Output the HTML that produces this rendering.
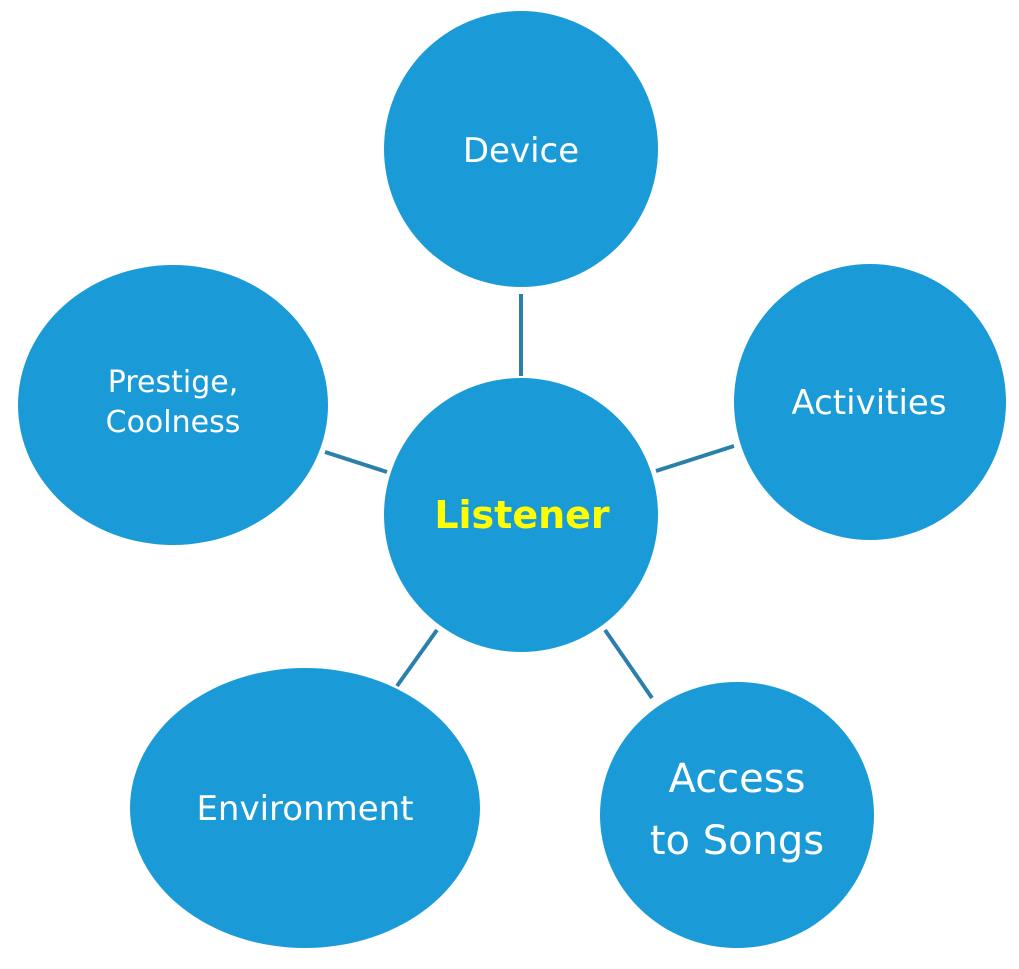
<!DOCTYPE html>
<html><head><style>
html,body{margin:0;padding:0;background:#fff;width:1019px;height:969px;overflow:hidden}
text{font-family:"DejaVu Sans","Liberation Sans",sans-serif;fill:#fff;text-anchor:middle}
</style></head><body>
<svg width="1019" height="969" viewBox="0 0 1019 969">
<g stroke="#2a80ab" stroke-width="4">
<line x1="521" y1="294" x2="521" y2="376"/>
<line x1="325" y1="452" x2="387" y2="472"/>
<line x1="656" y1="471" x2="734" y2="446"/>
<line x1="437" y1="630" x2="397" y2="686"/>
<line x1="605" y1="630" x2="652" y2="698"/>
</g>
<g fill="#1a9bd7">
<ellipse cx="521" cy="149" rx="137" ry="138"/>
<ellipse cx="870" cy="402" rx="136" ry="138"/>
<ellipse cx="173" cy="405" rx="155" ry="140"/>
<ellipse cx="521" cy="515" rx="137" ry="137"/>
<ellipse cx="305" cy="808" rx="175" ry="140"/>
<ellipse cx="737" cy="815" rx="137" ry="133"/>
</g>
<text x="521" y="162" font-size="34">Device</text>
<text x="869" y="414" font-size="34">Activities</text>
<text x="173" y="392" font-size="30">Prestige,</text>
<text x="173" y="432" font-size="30">Coolness</text>
<text x="305" y="820" font-size="34">Environment</text>
<text x="737" y="792" font-size="40">Access</text>
<text x="737" y="854" font-size="40">to Songs</text>
<text x="522" y="528" font-size="38" font-weight="bold" style="fill:#ffff00">Listener</text>
</svg>
</body></html>
